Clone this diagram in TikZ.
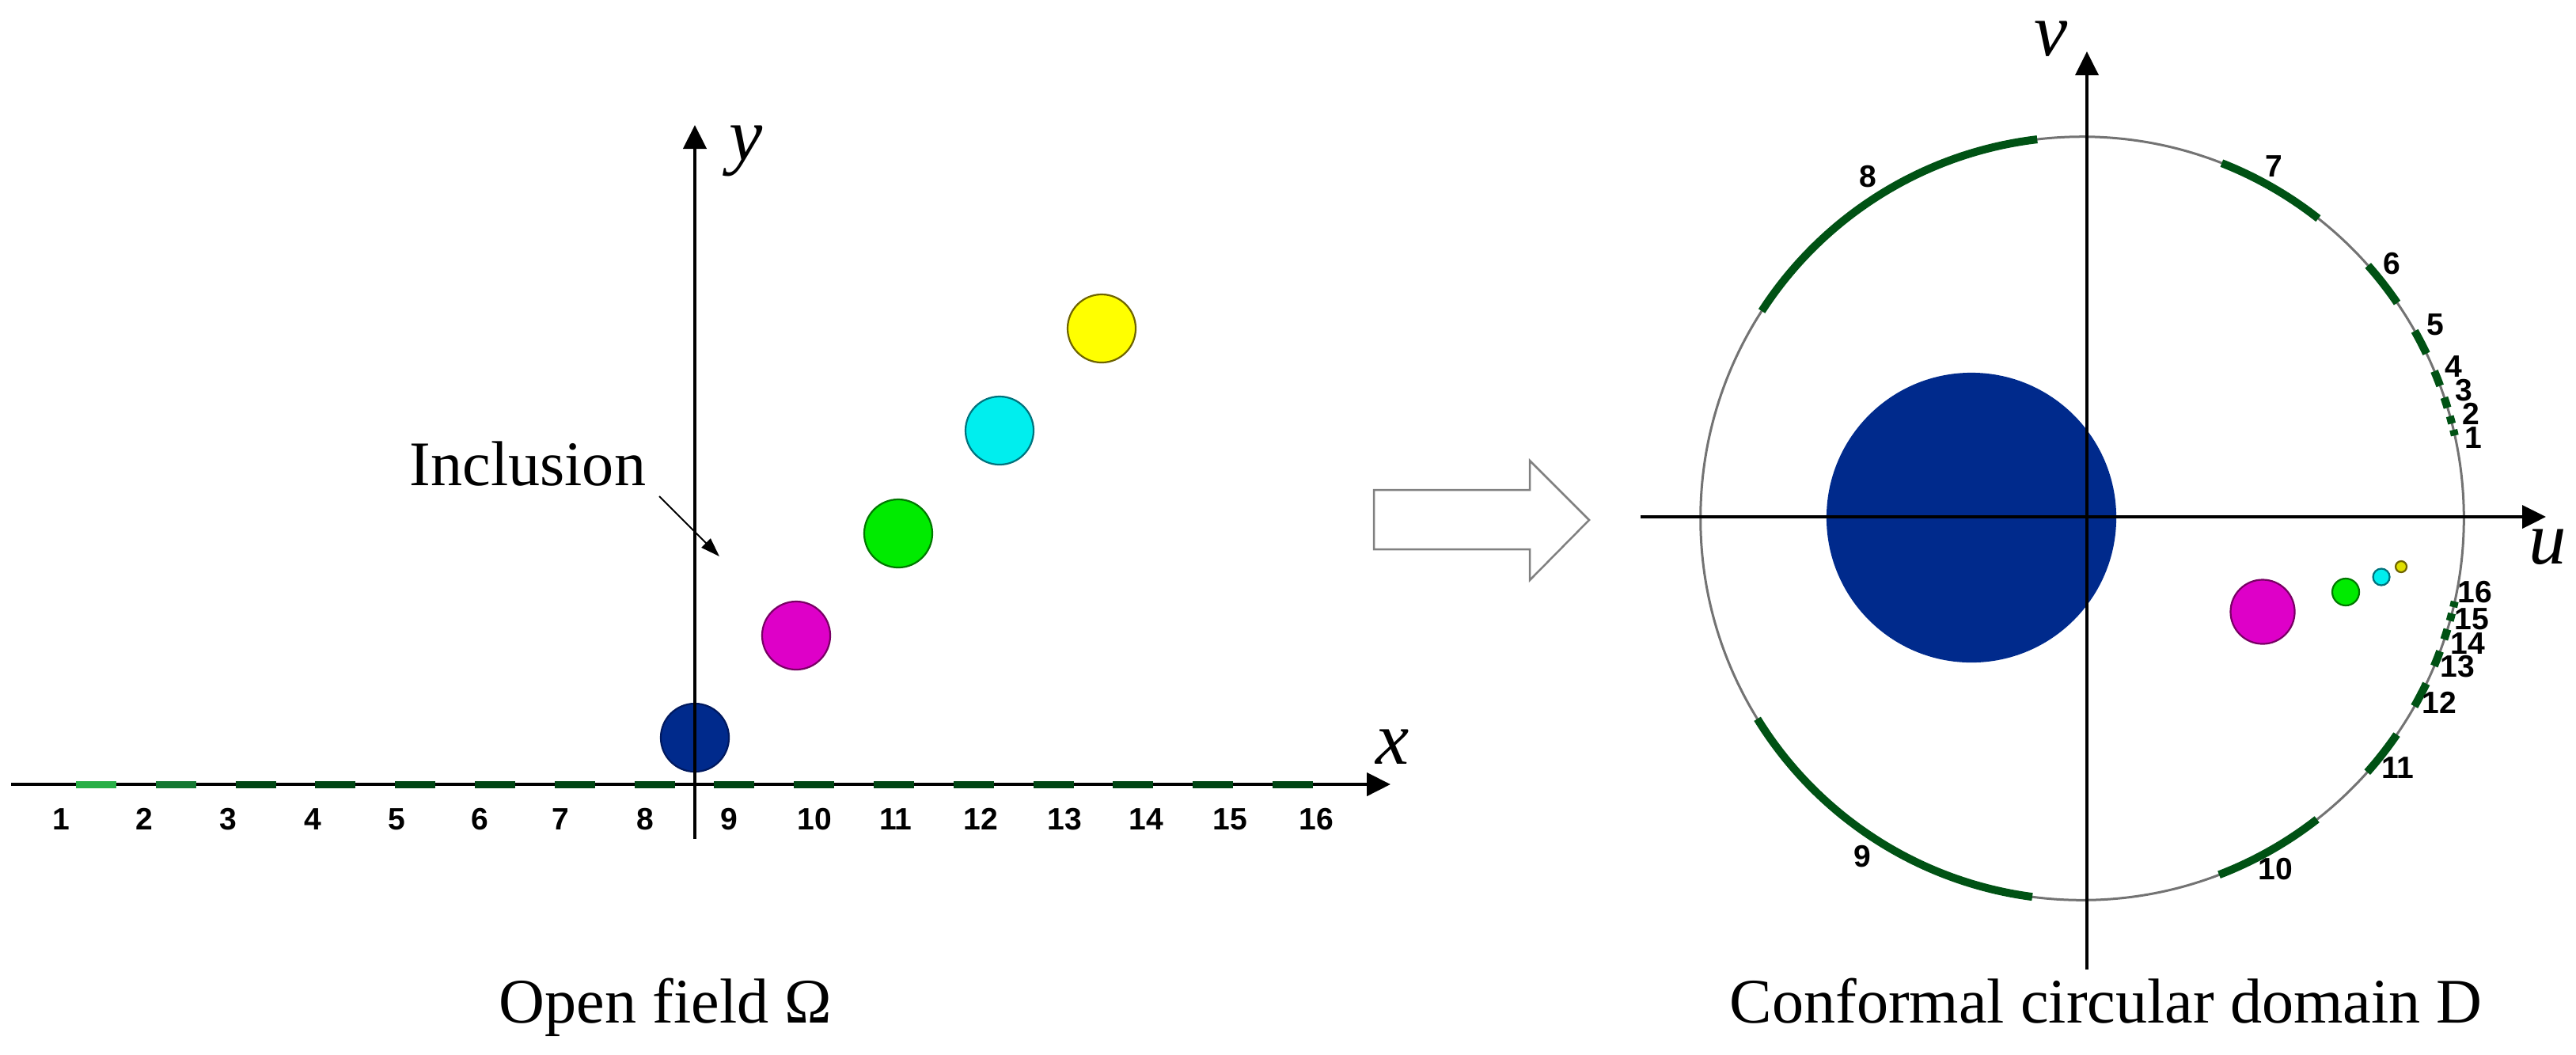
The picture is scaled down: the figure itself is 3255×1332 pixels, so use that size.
\documentclass[tikz,border=0pt]{standalone}
\usepackage{fontspec}
\setmainfont{Liberation Serif}
\newfontfamily\numfont{Liberation Sans}
\usetikzlibrary{arrows.meta}
\definecolor{navyc}{RGB}{0,42,140}
\definecolor{navyd}{RGB}{0,25,95}
\definecolor{magc}{RGB}{222,0,200}
\definecolor{magd}{RGB}{120,0,100}
\definecolor{grnc}{RGB}{0,235,0}
\definecolor{grnd}{RGB}{0,120,0}
\definecolor{cyac}{RGB}{0,238,238}
\definecolor{cyad}{RGB}{0,115,125}
\definecolor{yelc}{RGB}{255,255,0}
\definecolor{yeld}{RGB}{110,100,0}
\definecolor{dashdk}{RGB}{0,70,20}
\definecolor{dashA}{RGB}{40,175,70}
\definecolor{dashB}{RGB}{20,120,50}
\definecolor{arcdk}{RGB}{0,82,20}
\definecolor{circg}{RGB}{115,115,115}
\definecolor{hollowg}{RGB}{128,128,128}
\begin{document}
\begin{tikzpicture}[x=0.01cm,y=-0.01cm,
  axisline/.style={line width=0.045cm,-{Triangle[length=0.30cm,width=0.29cm]}},
  axisthin/.style={line width=0.035cm,-{Triangle[length=0.30cm,width=0.29cm]}},
  num/.style={font=\numfont\bfseries\fontsize{11.1}{13}\selectfont,inner sep=0pt},
  axlabel/.style={font=\fontsize{27}{30}\selectfont\itshape,inner sep=0pt,anchor=base},
  caption/.style={font=\fontsize{22.8}{26}\selectfont,inner sep=0pt,anchor=base},
  dashg/.style={line width=0.09cm,dashdk},
  arcg/.style={line width=0.10cm,arcdk},
  incl/.style={line width=0.022cm,draw,fill,circle,minimum size=0.86cm,inner sep=0pt},
  pointer/.style={line width=0.02cm,-{Triangle[length=0.24cm,width=0.16cm]}}]
\useasboundingbox (0,0) rectangle (3255,1332);

% ---------- left panel ----------
\node[incl,fill=navyc,draw=navyd] (c1) at (878,932) {};
\node[incl,fill=magc,draw=magd] (c2) at (1006,803) {};
\node[incl,fill=grnc,draw=grnd] (c3) at (1135,674) {};
\node[incl,fill=cyac,draw=cyad] (c4) at (1263,544) {};
\node[incl,fill=yelc,draw=yeld] (c5) at (1392,415) {};

\coordinate (xs) at (14,991);
\coordinate (xe) at (1757,991);
\coordinate (ys) at (878,1060);
\coordinate (ye) at (878,158);
\draw[axisline] (xs) -- (xe);
\draw[axisline] (ys) -- (ye);

\foreach \i in {1,...,16} {
  \pgfmathsetmacro\xs{96+100.8*(\i-1)}
  \pgfmathsetmacro\xe{\xs+51}
  \draw[dashg] (\xs,991) -- (\xe,991);
}
\draw[dashg,dashA] (96,991) -- (147,991);
\draw[dashg,dashB] (196.8,991) -- (247.8,991);

\foreach \i/\x in {1/77,2/182,3/288,4/395,5/501,6/606,7/708,8/815,9/921,10/1029,11/1132,12/1239,13/1345,14/1448,15/1554,16/1663}
  \node[num] (L\i) at (\x,1035) {\i};

\node[axlabel] (xlab) at (1760,965) {x};
\node[axlabel] (ylab) at (943,202) {y};

\node[caption,anchor=base west] (inc) at (517,613) {Inclusion};
\coordinate (inctail) at (833,627);
\coordinate (inchead) at (909,703);
\draw[pointer] (inctail) -- (inchead);

\node[caption] (capL) at (841,1292) {Open field Ω};

% ---------- hollow arrow ----------
\draw[hollowg,line width=0.025cm,fill=white]
  (1736,619) -- (1933,619) -- (1933,582) -- (2008,657) -- (1933,733) -- (1933,694) -- (1736,694) -- cycle;

% ---------- right panel ----------
\coordinate (C) at (2631,655);
\draw[circg,line width=0.03cm] (C) circle[radius=4.82cm];

\node[circle,fill=navyc,minimum size=3.66cm,inner sep=0pt] (d1) at (2491,654) {};
\node[incl,fill=magc,draw=magd,minimum size=0.81cm] (d2) at (2859,773) {};
\node[incl,fill=grnc,draw=grnd,minimum size=0.34cm] (d3) at (2964,748) {};
\node[incl,fill=cyac,draw=cyad,minimum size=0.21cm] (d4) at (3009,729) {};
\node[incl,fill=yelc!75!olive,draw=yeld,minimum size=0.14cm] (d5) at (3034,716) {};

\coordinate (us) at (2073,653);
\coordinate (ue) at (3217,653);
\coordinate (vs) at (2637,1225);
\coordinate (ve) at (2637,65);
\draw[axisthin] (us) -- (ue);
\draw[axisthin] (vs) -- (ve);

\foreach \i in {1,...,16} {
  \pgfmathsetmacro\xs{96+100.8*(\i-1)-878}
  \pgfmathsetmacro\xe{\xs+51}
  \pgfmathsetmacro\ta{180+2*atan(\xs/86)}
  \pgfmathsetmacro\tb{180+2*atan(\xe/86)}
  \draw[arcg] (C) ++(\ta:4.82cm) arc[start angle=\ta,end angle=\tb,radius=4.82cm];
}

\foreach \i/\x/\y in {1/3125/553,2/3122/523,3/3113/493,4/3100/463,5/3077/410,6/3022/333,7/2873/210,8/2360/223,9/2353/1082,10/2875/1098,11/3030/970,12/3082/888,13/3105/842,14/3118/813,15/3123/782,16/3127/748}
  \node[num] (R\i) at (\x,\y) {\i};

\node[axlabel] (ulab) at (3219,712) {u};
\node[axlabel] (vlab) at (2592,70) {v};

\node[caption] (capR) at (2661,1292) {Conformal circular domain D};
\end{tikzpicture}
\end{document}
